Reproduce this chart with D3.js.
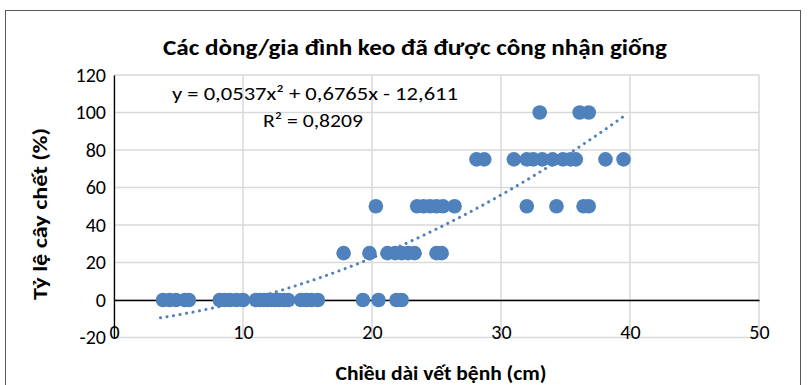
<!DOCTYPE html>
<html><head><meta charset="utf-8">
<script src="https://cdn.jsdelivr.net/npm/d3@7"></script>
<style>body{margin:0;background:#fff}svg{display:block}</style>
</head><body>
<svg id="c" width="809" height="385"></svg>
<script>
const title = "Các dòng/gia đình keo đã được công nhận giống";
const xTitle = "Chiều dài vết bệnh (cm)";
const yTitle = "Tỷ lệ cây chết (%)";
const xTicks = [0, 10, 20, 30, 40, 50];
const yTicks = [-20, 0, 20, 40, 60, 80, 100, 120];
const eqText = "y = 0,0537x² + 0,6765x - 12,611";
const r2Text = "R² = 0,8209";
const trendCoef = [-12.611, 0.6765, 0.0537];
const trendRange = [3.6, 39.6];
const lengthCm = [3.8, 4.3, 4.8, 5.5, 5.8,
  8.2, 8.6, 9.0, 9.5, 10.0, 11.0, 11.3, 11.6, 11.9, 12.2, 12.5, 12.8, 13.2, 13.5, 14.5, 14.9, 15.3, 15.8,
  19.3, 20.5, 21.9, 22.3,
  17.8, 19.8, 21.2, 21.8, 22.3, 22.8, 23.3, 25.0, 25.4,
  20.3, 23.5, 24.0, 24.5, 25.0, 25.5, 26.4,
  32.0, 34.3, 36.4, 36.8,
  28.1, 28.7, 31.0, 32.0, 32.5, 33.2, 34.0, 34.8, 35.4, 35.8, 38.1, 39.5,
  33.0, 36.1, 36.8];
const deadPct = [0, 0, 0, 0, 0,
  0, 0, 0, 0, 0, 0, 0, 0, 0, 0, 0, 0, 0, 0, 0, 0, 0, 0,
  0, 0, 0, 0,
  25, 25, 25, 25, 25, 25, 25, 25, 25,
  50, 50, 50, 50, 50, 50, 50,
  50, 50, 50, 50,
  75, 75, 75, 75, 75, 75, 75, 75, 75, 75, 75, 75,
  100, 100, 100];

const svg = d3.select("#c");
const font = "Carlito, Lato, 'Liberation Sans', sans-serif";
const col = "#4F81BD";
const x = d3.scaleLinear().domain([0, 50]).range([114, 759]);
const y = d3.scaleLinear().domain([-20, 120]).range([337.5, 75]);

svg.append("rect").attr("x", 5.5).attr("y", 10.5).attr("width", 795).attr("height", 400)
  .attr("fill", "#fff").attr("stroke", "#595959").attr("stroke-width", 1);

// gridlines
svg.append("g").selectAll("line").data(yTicks).join("line")
  .attr("x1", x(0)).attr("x2", x(50)).attr("y1", d => y(d)).attr("y2", d => y(d))
  .attr("stroke", "#D9D9D9").attr("stroke-width", 1.5);
svg.append("g").selectAll("line").data(xTicks).join("line")
  .attr("x1", d => x(d)).attr("x2", d => x(d)).attr("y1", y(-20)).attr("y2", y(120))
  .attr("stroke", "#D9D9D9").attr("stroke-width", 1.5);

// axes
const yAx = svg.append("g").attr("transform", `translate(${x(0)},0)`)
  .call(d3.axisLeft(y).tickValues(yTicks).tickSize(0).tickPadding(8).tickFormat(d => d));
yAx.select(".domain").attr("stroke", "#000").attr("stroke-width", 1.3);
yAx.selectAll("text").attr("font-family", font).attr("font-size", 20).attr("fill", "#000");
const xAx = svg.append("g").attr("transform", `translate(0,${y(0)})`)
  .call(d3.axisBottom(x).tickValues(xTicks).tickSize(0).tickPadding(0).tickFormat(d => d));
xAx.select(".domain").attr("stroke", "#000").attr("stroke-width", 1.3);
xAx.selectAll("text").attr("font-family", font).attr("font-size", 20).attr("fill", "#000")
  .attr("dy", null).attr("y", 39);

// points
const pts = lengthCm.map((v, i) => [v, deadPct[i]]);
svg.append("g").selectAll("circle").data(pts).join("circle")
  .attr("cx", d => x(d[0])).attr("cy", d => y(d[1])).attr("r", 7.3).attr("fill", col);

// trendline
const tx = d3.range(trendRange[0], trendRange[1] + 0.001, 0.2);
const ty = v => trendCoef[0] + trendCoef[1] * v + trendCoef[2] * v * v;
svg.append("path").datum(tx).attr("fill", "none").attr("stroke", col).attr("stroke-width", 3)
  .attr("stroke-linecap", "round").attr("stroke-dasharray", "0.1 6.5")
  .attr("d", d3.line().x(v => x(v)).y(v => y(ty(v))));

// texts
svg.append("text").attr("x", 415).attr("y", 55).attr("text-anchor", "middle")
  .attr("font-family", font).attr("font-size", 22).attr("font-weight", "bold")
  .attr("textLength", 504).attr("lengthAdjust", "spacingAndGlyphs").text(title);
svg.append("text").attr("x", 441).attr("y", 380).attr("text-anchor", "middle")
  .attr("font-family", font).attr("font-size", 21).attr("font-weight", "bold")
  .attr("textLength", 211).attr("lengthAdjust", "spacingAndGlyphs").text(xTitle);
svg.append("text").attr("transform", "translate(47,214) rotate(-90)").attr("text-anchor", "middle")
  .attr("font-family", font).attr("font-size", 21).attr("font-weight", "bold")
  .attr("textLength", 172).attr("lengthAdjust", "spacingAndGlyphs").text(yTitle);
svg.append("text").attr("x", 172).attr("y", 100).attr("font-family", font).attr("font-size", 19)
  .attr("textLength", 286).attr("lengthAdjust", "spacingAndGlyphs").text(eqText);
svg.append("text").attr("x", 263).attr("y", 127).attr("font-family", font).attr("font-size", 19)
  .attr("textLength", 100).attr("lengthAdjust", "spacingAndGlyphs").text(r2Text);
</script>
</body></html>
